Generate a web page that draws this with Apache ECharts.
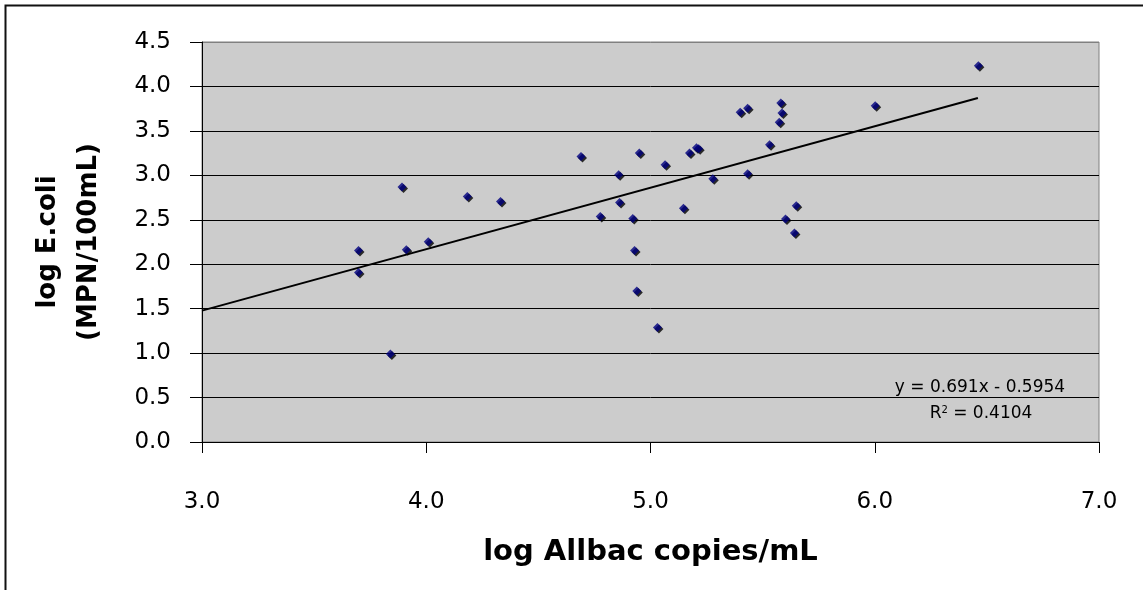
<!DOCTYPE html>
<html>
<head>
<meta charset="utf-8">
<script src="https://cdn.jsdelivr.net/npm/echarts@6/dist/echarts.min.js"></script>
<style>
html,body{margin:0;padding:0;background:#fff;}
#chart{width:1143px;height:590px;}
</style>
</head>
<body>
<div id="chart"></div>
<script>
// log Allbac copies/mL (x) vs log E.coli MPN/100mL (y)
const allbacX = [3.698, 3.698, 3.840, 3.892, 3.911, 4.009, 4.183, 4.331, 4.690, 4.776,
                 4.858, 4.862, 4.921, 4.929, 4.939, 4.950, 5.031, 5.065, 5.147, 5.174,
                 5.205, 5.215, 5.278, 5.400, 5.433, 5.433, 5.531, 5.574, 5.581, 5.586,
                 5.602, 5.642, 5.650, 6.002, 6.462];
const ecoliY  = [2.154, 1.907, 0.991, 2.868, 2.162, 2.252, 2.763, 2.706, 3.213, 2.537,
                 3.007, 2.695, 2.515, 2.154, 1.700, 3.251, 1.287, 3.119, 2.631, 3.251,
                 3.310, 3.300, 2.962, 3.709, 3.754, 3.018, 3.345, 3.596, 3.814, 3.701,
                 2.508, 2.350, 2.658, 3.784, 4.234];
// linear trend line end points as drawn
const trendX = [3.0, 6.46];
const trendY = [1.478, 3.869];
const equationText = 'y = 0.691x - 0.5954';
const r2Text = '0.4104';
const xTitle = 'log Allbac copies/mL';
const yTitle = 'log E.coli\n(MPN/100mL)';

const scatterData = allbacX.map((x, i) => [x, ecoliY[i]]);
const trendData = trendX.map((x, i) => [x, trendY[i]]);

const chart = echarts.init(document.getElementById('chart'), null, {renderer: 'canvas'});
const FONT = 'DejaVu Sans';
const gridColors = ['#000', '#000', '#000', '#000', '#000', '#000', '#000', '#000', '#000', '#808080'];
chart.setOption({
  animation: false,
  backgroundColor: '#ffffff',
  grid: {left: 202, right: 44, top: 42, bottom: 148, show: true,
         backgroundColor: '#cccccc', borderColor: '#808080', borderWidth: 1},
  xAxis: {
    type: 'value', min: 3, max: 7, interval: 1,
    name: xTitle, nameLocation: 'middle', nameGap: 96,
    nameTextStyle: {fontFamily: FONT, fontSize: 29, fontWeight: 'bold', color: '#000'},
    axisLine: {show: true, lineStyle: {color: '#000', width: 1}},
    axisTick: {show: true, inside: false, length: 11, lineStyle: {color: '#000'}},
    axisLabel: {fontFamily: FONT, fontSize: 23, color: '#000', margin: 49,
                formatter: v => v.toFixed(1)},
    splitLine: {show: false}
  },
  yAxis: {
    type: 'value', min: 0, max: 4.5, interval: 0.5,
    name: yTitle, nameLocation: 'middle', nameRotate: 90, nameGap: 92,
    nameTextStyle: {fontFamily: FONT, fontSize: 26, fontWeight: 'bold', color: '#000',
                    lineHeight: 41, align: 'center'},
    axisLine: {show: true, lineStyle: {color: '#000', width: 1}},
    axisTick: {show: true, inside: false, length: 12, lineStyle: {color: '#000'}},
    axisLabel: {fontFamily: FONT, fontSize: 23, color: '#000', margin: 31,
                formatter: v => v.toFixed(1)},
    splitLine: {show: true, lineStyle: {color: gridColors, width: 1}}
  },
  series: [
    {
      type: 'line', data: trendData, symbol: 'none', silent: true,
      lineStyle: {color: '#000', width: 2}, z: 2
    },
    {
      type: 'scatter', data: scatterData, symbol: 'diamond', symbolSize: 9,
      itemStyle: {color: '#000080', shadowColor: '#000', shadowOffsetX: 1.5,
                  shadowOffsetY: 1.5, shadowBlur: 0},
      z: 3
    }
  ],
  graphic: [
    {type: 'rect', left: 3, top: 3, shape: {width: 1200, height: 700},
     style: {fill: 'none', stroke: '#111', lineWidth: 2}, silent: true, z: 100},
    {type: 'text', x: 980, y: 388, z: 50,
     style: {text: equationText, fontFamily: FONT, fontSize: 17, fill: '#000',
             align: 'center', verticalAlign: 'middle'}},
    {type: 'text', x: 981, y: 414, z: 50,
     style: {text: 'R{sup|2} = ' + r2Text, fontFamily: FONT, fontSize: 17, fill: '#000',
             align: 'center', verticalAlign: 'middle',
             rich: {sup: {fontSize: 10, verticalAlign: 'top', padding: [0, 0, 8, 0], fontFamily: FONT}}}}
  ]
});
</script>
</body>
</html>
